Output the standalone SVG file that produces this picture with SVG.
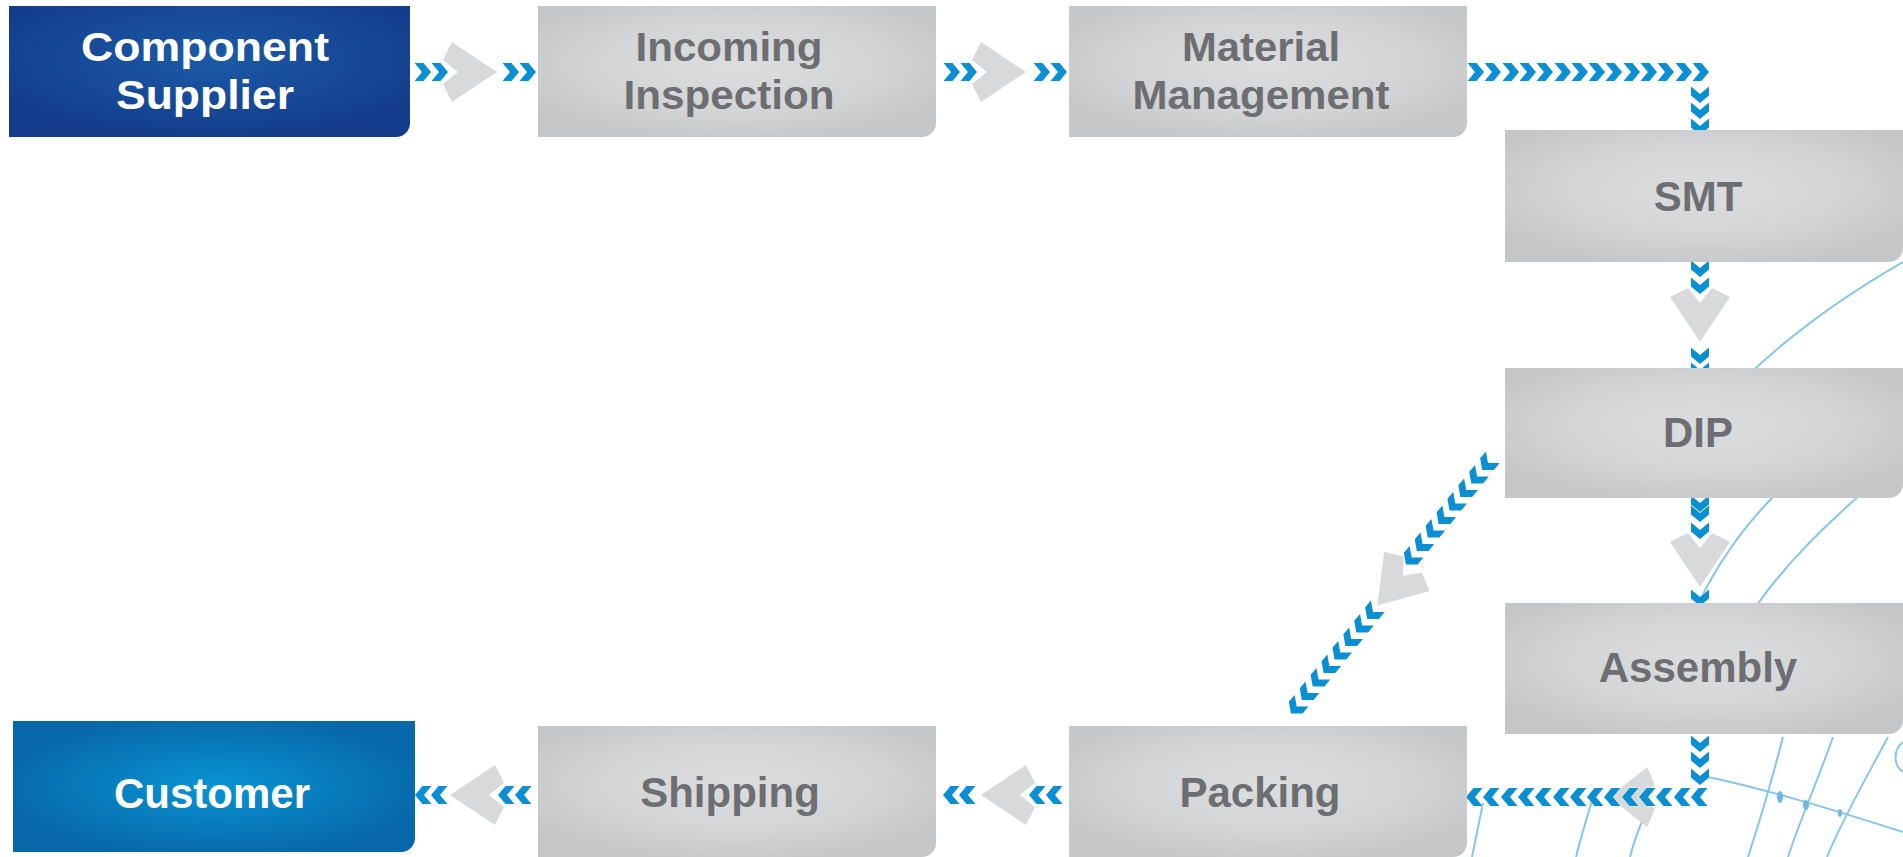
<svg xmlns="http://www.w3.org/2000/svg" width="1903" height="857" viewBox="0 0 1903 857">
<style>
.lbl{font-family:"Liberation Sans",Arial,sans-serif;font-weight:bold;font-size:42px;text-anchor:middle;fill:#6d6e71}
.two{font-size:40px}
.wl{fill:#ffffff}
.deco{fill:none;stroke:#86c5ec;stroke-width:2}
</style>
<defs>
<radialGradient id="gg" cx="50%" cy="45%" r="60%">
<stop offset="0" stop-color="#dcdddf"/>
<stop offset="0.6" stop-color="#d3d4d6"/>
<stop offset="1" stop-color="#c5c6c8"/>
</radialGradient>
<radialGradient id="gb" cx="50%" cy="40%" r="60%">
<stop offset="0" stop-color="#1c5aa6"/>
<stop offset="1" stop-color="#133d8c"/>
</radialGradient>
<radialGradient id="gc" cx="50%" cy="50%" r="55%">
<stop offset="0" stop-color="#0894d4"/>
<stop offset="1" stop-color="#0867a8"/>
</radialGradient>
<polygon id="b" points="-7.5,-9 1.5,-9 9,0 1.5,9 -7.5,9 0,0" fill="#0a8fd2" stroke="#ffffff" stroke-width="1" paint-order="stroke"/>
<polygon id="g" points="-18,-30 27,0 -18,30 -27,12 -12,0 -27,-12" fill="#d8d9db"/>
</defs>
<rect width="1903" height="857" fill="#ffffff"/>
<g id="background">
<path class="deco" d="M1745,378 C1790,335 1845,295 1903,262"/>
<path class="deco" d="M1700,600 C1720,560 1745,525 1775,495"/>
<path class="deco" d="M1757,605 C1785,565 1820,530 1860,495"/>
<path class="deco" d="M1783,737 C1772,780 1760,820 1748,857"/>
<path class="deco" d="M1833,737 C1818,780 1800,820 1788,857"/>
<path class="deco" d="M1888,737 C1865,780 1842,820 1827,857"/>
<path class="deco" d="M1708,777 C1770,790 1840,812 1903,832"/>
<path class="deco" d="M1903,742 C1893,750 1893,765 1903,772"/>
<path class="deco" d="M1483,803 L1472,857"/>
<path class="deco" d="M1592,800 C1585,825 1580,840 1576,857"/>
<path class="deco" d="M1645,815 C1638,830 1633,845 1630,857"/>
<ellipse cx="1780" cy="797" rx="3" ry="6" fill="#6cb8e6"/>
<ellipse cx="1806" cy="805" rx="3" ry="5" fill="#6cb8e6"/>
<ellipse cx="1840" cy="813" rx="2" ry="4" fill="#6cb8e6"/>
</g>
<g id="connectors">
<use href="#g" transform="translate(470,72)"/>
<use href="#g" transform="translate(999,72)"/>
<use href="#g" transform="translate(1700,315) rotate(90)"/>
<use href="#g" transform="translate(1700,560) rotate(90)"/>
<use href="#g" transform="translate(1395,585) rotate(131)"/>
<use href="#g" transform="translate(1632,797) scale(-0.85,1)"/>
<use href="#g" transform="translate(477,795) scale(-1,1)"/>
<use href="#g" transform="translate(1008,795) scale(-1,1)"/>
<use href="#b" transform="translate(422,72)"/>
<use href="#b" transform="translate(439,72)"/>
<use href="#b" transform="translate(510,72)"/>
<use href="#b" transform="translate(527,72)"/>
<use href="#b" transform="translate(951,72)"/>
<use href="#b" transform="translate(968,72)"/>
<use href="#b" transform="translate(1041,72)"/>
<use href="#b" transform="translate(1058,72)"/>
<use href="#b" transform="translate(1475,72)"/>
<use href="#b" transform="translate(1492,72)"/>
<use href="#b" transform="translate(1510,72)"/>
<use href="#b" transform="translate(1527,72)"/>
<use href="#b" transform="translate(1544,72)"/>
<use href="#b" transform="translate(1562,72)"/>
<use href="#b" transform="translate(1579,72)"/>
<use href="#b" transform="translate(1596,72)"/>
<use href="#b" transform="translate(1613,72)"/>
<use href="#b" transform="translate(1631,72)"/>
<use href="#b" transform="translate(1648,72)"/>
<use href="#b" transform="translate(1665,72)"/>
<use href="#b" transform="translate(1683,72)"/>
<use href="#b" transform="translate(1700,72)"/>
<use href="#b" transform="translate(1700,94) rotate(90)"/>
<use href="#b" transform="translate(1700,110) rotate(90)"/>
<use href="#b" transform="translate(1700,126) rotate(90)"/>
<use href="#b" transform="translate(1700,268) rotate(90)"/>
<use href="#b" transform="translate(1700,285) rotate(90)"/>
<use href="#b" transform="translate(1700,355) rotate(90)"/>
<use href="#b" transform="translate(1700,370) rotate(90)"/>
<use href="#b" transform="translate(1700,503) rotate(90)"/>
<use href="#b" transform="translate(1700,513) rotate(90)"/>
<use href="#b" transform="translate(1700,530) rotate(90)"/>
<use href="#b" transform="translate(1700,597) rotate(90)"/>
<use href="#b" transform="translate(1700,743) rotate(90)"/>
<use href="#b" transform="translate(1700,759) rotate(90)"/>
<use href="#b" transform="translate(1700,776) rotate(90)"/>
<use href="#b" transform="translate(1700,797) scale(-1,1)"/>
<use href="#b" transform="translate(1683,797) scale(-1,1)"/>
<use href="#b" transform="translate(1665,797) scale(-1,1)"/>
<use href="#b" transform="translate(1648,797) scale(-1,1)"/>
<use href="#b" transform="translate(1631,797) scale(-1,1)"/>
<use href="#b" transform="translate(1613,797) scale(-1,1)"/>
<use href="#b" transform="translate(1596,797) scale(-1,1)"/>
<use href="#b" transform="translate(1579,797) scale(-1,1)"/>
<use href="#b" transform="translate(1562,797) scale(-1,1)"/>
<use href="#b" transform="translate(1544,797) scale(-1,1)"/>
<use href="#b" transform="translate(1527,797) scale(-1,1)"/>
<use href="#b" transform="translate(1510,797) scale(-1,1)"/>
<use href="#b" transform="translate(1492,797) scale(-1,1)"/>
<use href="#b" transform="translate(1475,797) scale(-1,1)"/>
<use href="#b" transform="translate(1488,463) rotate(130)"/>
<use href="#b" transform="translate(1477.1,476.5) rotate(130)"/>
<use href="#b" transform="translate(1466.2,490) rotate(130)"/>
<use href="#b" transform="translate(1455.3,503.5) rotate(130)"/>
<use href="#b" transform="translate(1444.4,517) rotate(130)"/>
<use href="#b" transform="translate(1433.5,530.5) rotate(130)"/>
<use href="#b" transform="translate(1422.6,544) rotate(130)"/>
<use href="#b" transform="translate(1411.7,557.5) rotate(130)"/>
<use href="#b" transform="translate(1373,612) rotate(130)"/>
<use href="#b" transform="translate(1362.1,625.5) rotate(130)"/>
<use href="#b" transform="translate(1351.2,639) rotate(130)"/>
<use href="#b" transform="translate(1340.3,652.5) rotate(130)"/>
<use href="#b" transform="translate(1329.4,666) rotate(130)"/>
<use href="#b" transform="translate(1318.5,679.5) rotate(130)"/>
<use href="#b" transform="translate(1307.6,693) rotate(130)"/>
<use href="#b" transform="translate(1296.7,706.5) rotate(130)"/>
<use href="#b" transform="translate(424,795) scale(-1,1)"/>
<use href="#b" transform="translate(440,795) scale(-1,1)"/>
<use href="#b" transform="translate(507,795) scale(-1,1)"/>
<use href="#b" transform="translate(524,795) scale(-1,1)"/>
<use href="#b" transform="translate(952,795) scale(-1,1)"/>
<use href="#b" transform="translate(968,795) scale(-1,1)"/>
<use href="#b" transform="translate(1038,795) scale(-1,1)"/>
<use href="#b" transform="translate(1055,795) scale(-1,1)"/>
</g>
<g id="component-supplier">
<path d="M9 6 H410 V123 A14 14 0 0 1 396 137 H9 Z" fill="url(#gb)"/>
<text class="lbl two wl" x="205" y="61" textLength="248" lengthAdjust="spacingAndGlyphs">Component</text>
<text class="lbl two wl" x="205" y="109" textLength="178" lengthAdjust="spacingAndGlyphs">Supplier</text>
</g>
<g id="incoming-inspection">
<path d="M538 6 H936 V123 A14 14 0 0 1 922 137 H538 Z" fill="url(#gg)"/>
<text class="lbl two" x="729" y="61" textLength="187" lengthAdjust="spacingAndGlyphs">Incoming</text>
<text class="lbl two" x="729" y="109" textLength="211" lengthAdjust="spacingAndGlyphs">Inspection</text>
</g>
<g id="material-management">
<path d="M1069 6 H1467 V123 A14 14 0 0 1 1453 137 H1069 Z" fill="url(#gg)"/>
<text class="lbl two" x="1261" y="61" textLength="158" lengthAdjust="spacingAndGlyphs">Material</text>
<text class="lbl two" x="1261" y="109" textLength="257" lengthAdjust="spacingAndGlyphs">Management</text>
</g>
<g id="smt">
<path d="M1505 130 H1903 V248 A14 14 0 0 1 1889 262 H1505 Z" fill="url(#gg)"/>
<text class="lbl" x="1698" y="211">SMT</text>
</g>
<g id="dip">
<path d="M1505 368 H1903 V484 A14 14 0 0 1 1889 498 H1505 Z" fill="url(#gg)"/>
<text class="lbl" x="1698" y="447">DIP</text>
</g>
<g id="assembly">
<path d="M1505 603 H1903 V720 A14 14 0 0 1 1889 734 H1505 Z" fill="url(#gg)"/>
<text class="lbl" x="1698" y="682">Assembly</text>
</g>
<g id="packing">
<path d="M1069 726 H1467 V843 A14 14 0 0 1 1453 857 H1069 Z" fill="url(#gg)"/>
<text class="lbl" x="1260" y="807">Packing</text>
</g>
<g id="shipping">
<path d="M538 726 H936 V843 A14 14 0 0 1 922 857 H538 Z" fill="url(#gg)"/>
<text class="lbl" x="730" y="807">Shipping</text>
</g>
<g id="customer">
<path d="M13 721 H415 V838 A14 14 0 0 1 401 852 H13 Z" fill="url(#gc)"/>
<text class="lbl wl" x="212" y="808">Customer</text>
</g>
</svg>
